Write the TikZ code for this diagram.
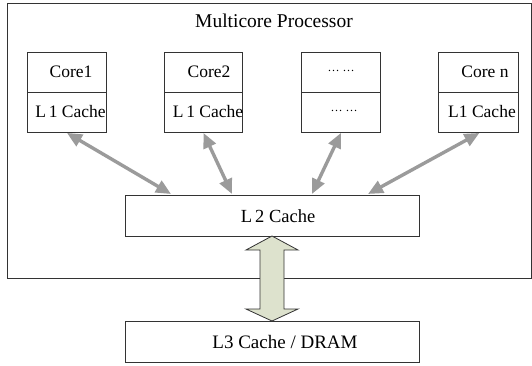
\documentclass[tikz,border=0pt]{standalone}
\usepackage{fontspec}
\setmainfont{Liberation Serif}
\usetikzlibrary{arrows.meta,calc}
\definecolor{linkgray}{HTML}{9B9B9B}
\definecolor{blockfill}{HTML}{DDE2CD}
\definecolor{boxline}{HTML}{333333}
\begin{document}
\begin{tikzpicture}[x=1pt,y=-1pt,
  box/.style={draw=boxline,line width=0.9pt,inner sep=0pt},
  lbl/.style={inner sep=0pt,font=\fontsize{17.5}{20}\selectfont},
  biglbl/.style={inner sep=0pt,font=\fontsize{19}{22}\selectfont},
  dots/.style={inner sep=0pt,font=\fontsize{12}{14}\selectfont},
  link/.style={draw=linkgray,line width=3.4pt,{Triangle[length=15pt,width=13pt]}-{Triangle[length=15pt,width=13pt]}}]
\useasboundingbox (0,0) rectangle (532,365);
% outer processor box
\node[box,minimum width=523.5pt,minimum height=275pt,anchor=north west] (proc) at (7,3) {};
\node[biglbl,font=\fontsize{19.5}{22}\selectfont] (title) at (274,21) {Multicore Processor};
% cores
\foreach \n/\xl/\xr in {c1/27/106,c2/164/242,c3/301/380,c4/438/518}{
  \node[box,minimum width=\xr pt-\xl pt,minimum height=40pt,anchor=north west] (\n top) at (\xl,52) {};
  \node[box,minimum width=\xr pt-\xl pt,minimum height=40pt,anchor=north west] (\n bot) at (\xl,92) {};
}
\node[lbl] (t1a) at (71,72) {Core1};
\node[lbl] (t1b) at (70.5,112) {L\,1 Cache};
\node[lbl] (t2a) at (209,72) {Core2};
\node[lbl] (t2b) at (208,112) {L\,1 Cache};
\node[dots] (t3a) at (341,71) {\ldots\ \ldots};
\node[dots] (t3b) at (344,111) {\ldots\ \ldots};
\node[lbl] (t4a) at (485,72) {Core n};
\node[lbl] (t4b) at (482,112) {L1 Cache};
% L2 and L3
\node[box,minimum width=294pt,minimum height=41pt,anchor=north west] (l2) at (125,195) {};
\node[biglbl,font=\fontsize{18.5}{21}\selectfont] (l2t) at (278,216) {L\,2 Cache};
\node[box,minimum width=294pt,minimum height=41pt,anchor=north west] (l3) at (125,321) {};
\node[biglbl] (l3t) at (285,342) {L3 Cache / DRAM};
% links
\coordinate (e1) at (171,194);
\coordinate (e2) at (232,194);
\coordinate (e3) at (312,194);
\coordinate (e4) at (368,194);
\draw[link] (c1bot.south) -- (e1);
\draw[link] (c2bot.south) -- (e2);
\draw[link] (c3bot.south) -- (e3);
\draw[link] ($(c4bot.south)+(1,0)$) -- (e4);
% block double arrow
\draw[draw=boxline,fill=blockfill,line width=0.8pt,line join=miter]
  (272,236) -- (298,250) -- (284,250) -- (284,309) -- (298,309) -- (272,321)
  -- (246,309) -- (260,309) -- (260,250) -- (246,250) -- cycle;
\end{tikzpicture}
\end{document}
